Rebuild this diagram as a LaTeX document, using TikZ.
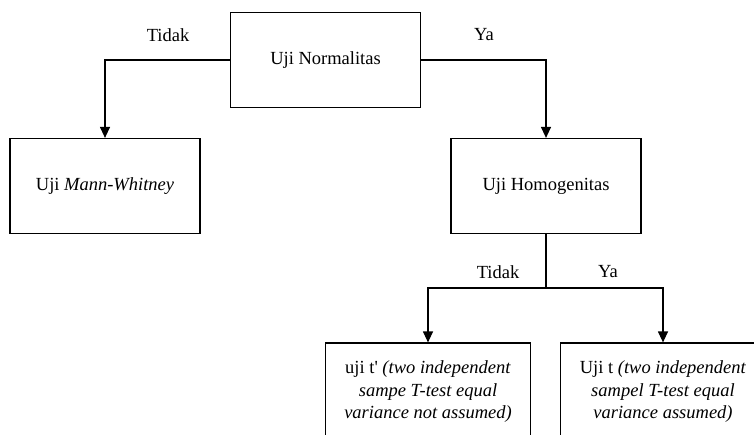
\documentclass[tikz,border=0pt]{standalone}
\usepackage{fontspec}
\setmainfont{Liberation Serif}
\usetikzlibrary{arrows.meta,positioning}

\begin{document}
\begin{tikzpicture}[
    x=1pt, y=-1pt,
    font=\fontsize{18.5}{22.5}\selectfont,
    testbox/.style={rectangle, draw, line width=1.2pt, minimum width=190pt, minimum height=95pt, align=center, inner sep=0pt},
    widebox/.style={testbox, minimum width=205pt, minimum height=98pt},
    flow/.style={draw, line width=1.2pt, -{Triangle[length=11pt, width=10pt]}}
]
\clip (0,0) rectangle (754,434);
\node[testbox] (normal) at (325.5,60) {Uji Normalitas};
\node[testbox] (mann) at (105,186) {Uji \textit{Mann-Whitney}};
\node[testbox] (homog) at (546,186) {Uji Homogenitas};
\node[widebox] (ujiaksen) at (428,392) {uji t\textquotesingle{} \textit{(two independent}\\\textit{sampe T-test equal}\\\textit{variance not assumed)}};
\node[widebox] (ujit) at (663,392) {Uji t \textit{(two independent}\\\textit{sampel T-test equal}\\\textit{variance assumed)}};

% labels
\node (tidak1) at (168,35) {Tidak};
\node (ya1) at (484,35) {Ya};
\node (tidak2) at (498,272) {Tidak};
\node (ya2) at (608,272) {Ya};

% connectors
\draw[flow] (normal.west) -| (mann.north);
\draw[flow] (normal.east) -| (homog.north);
\coordinate (split) at (546,288);
\draw[line width=1.2pt] (homog.south) -- (split);
\draw[flow] (split) -| (ujiaksen.north);
\draw[flow] (split) -| (ujit.north);
\end{tikzpicture}
\end{document}
